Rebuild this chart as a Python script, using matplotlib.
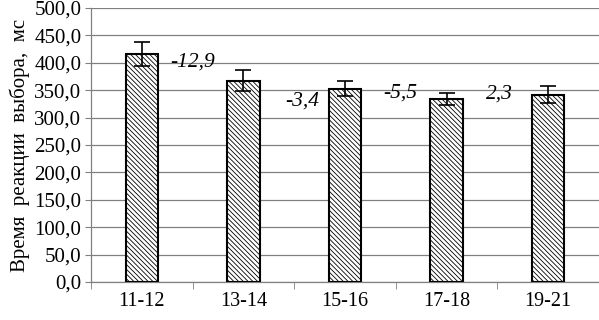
import matplotlib
matplotlib.use("Agg")
import matplotlib.pyplot as plt
import numpy as np

categories = ["11-12", "13-14", "15-16", "17-18", "19-21"]
values = [416, 367, 353, 334, 342]
errors = [22, 19, 14, 10.5, 16]
ann_labels = ["-12,9", "-3,4", "-5,5", "2,3"]
ann_x = [0.5, 1.58, 2.54, 3.52]
ann_y = [401, 330, 345, 343]

plt.rcParams['font.family'] = ['Liberation Serif', 'DejaVu Serif']
plt.rcParams['hatch.color'] = '#9a9a9a'
plt.rcParams['hatch.linewidth'] = 0.6

fig = plt.figure(figsize=(5.99, 3.2), dpi=100)
ax = fig.add_axes([91/599, 1 - 282/320, 508/599, 274/320])

x = np.arange(len(categories))
ax.bar(x, values, width=0.32, color='white', edgecolor='black', linewidth=1.5,
       hatch='\\' * 7, zorder=3)
ax.errorbar(x, values, yerr=errors, fmt='none', ecolor='black', elinewidth=1.2,
            capsize=6, capthick=1.2, zorder=4)

for lx, ly, lt in zip(ann_x, ann_y, ann_labels):
    ax.text(lx, ly, lt, ha='center', va='center', fontsize=15.5, style='italic', zorder=5)

ax.set_xlim(-0.5, len(categories) - 0.5)
ax.set_ylim(0, 500)
ax.set_yticks(np.arange(0, 501, 50))
ax.set_yticklabels([f"{v:.1f}".replace('.', ',') for v in np.arange(0, 501, 50)], fontsize=15)
ax.set_xticks(x)
ax.set_xticklabels(categories, fontsize=14.5)
ax.tick_params(axis='x', which='major', length=0, pad=7)
ax.set_xticks(np.arange(-0.5, len(categories)), minor=True)
ax.tick_params(axis='x', which='minor', length=5, color='#808080', direction='out')
ax.tick_params(axis='y', length=4, color='#808080', direction='out', pad=3)

ax.yaxis.grid(True, color='#808080', linewidth=0.9, zorder=0)
ax.set_axisbelow(True)
for s in ['top', 'right']:
    ax.spines[s].set_visible(False)
for s in ['left', 'bottom']:
    ax.spines[s].set_color('#808080')
    ax.spines[s].set_linewidth(0.9)

ax.set_ylabel("Время  реакции  выбора,  мс", fontsize=15, labelpad=3)

fig.savefig("out.png", dpi=100)
